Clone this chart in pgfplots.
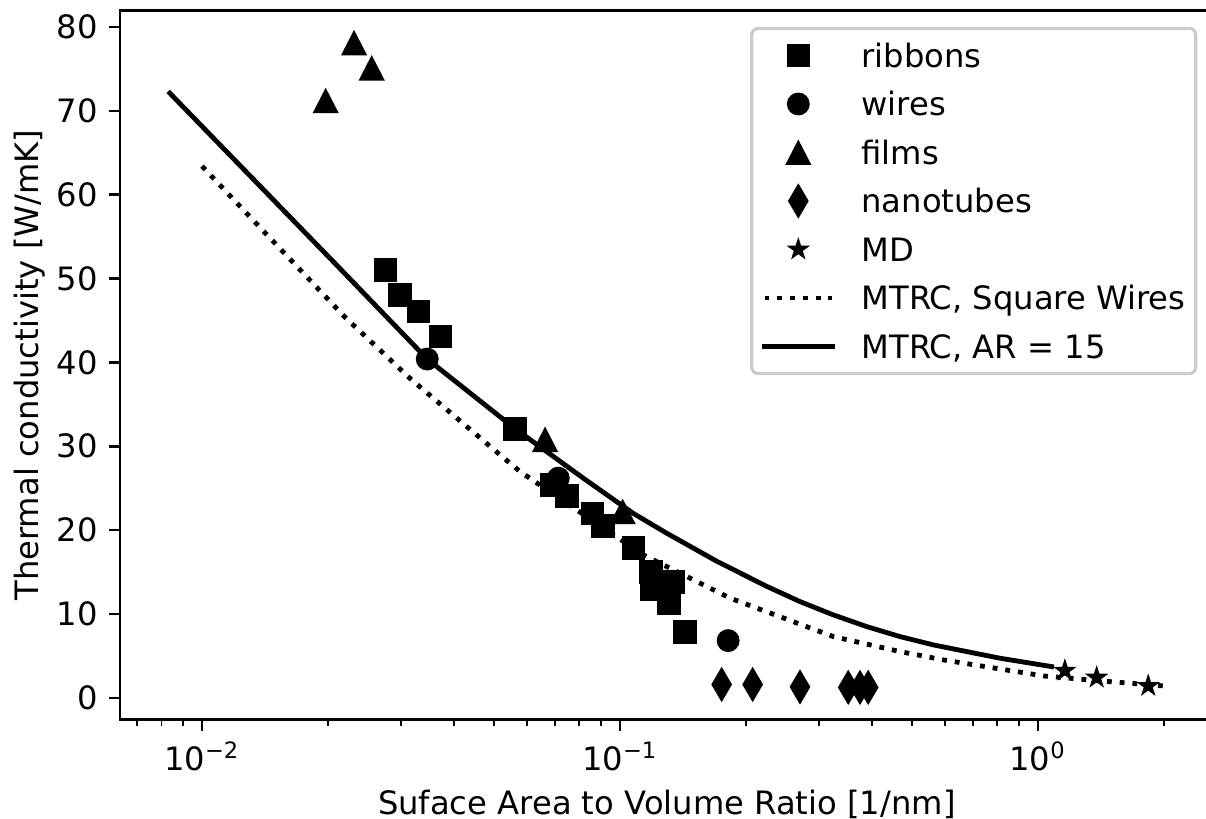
\documentclass[border=0pt]{standalone}
\usepackage{fontspec}
\setmainfont{DejaVu Sans}
\usepackage{pgfplots}
\pgfplotsset{compat=1.18}
\pgfdeclareplotmark{fstar}{%
  \pgfpathmoveto{\pgfqpointpolar{90}{\pgfplotmarksize}}%
  \pgfpathlineto{\pgfqpointpolar{126}{0.382\pgfplotmarksize}}%
  \pgfpathlineto{\pgfqpointpolar{162}{\pgfplotmarksize}}%
  \pgfpathlineto{\pgfqpointpolar{198}{0.382\pgfplotmarksize}}%
  \pgfpathlineto{\pgfqpointpolar{234}{\pgfplotmarksize}}%
  \pgfpathlineto{\pgfqpointpolar{270}{0.382\pgfplotmarksize}}%
  \pgfpathlineto{\pgfqpointpolar{306}{\pgfplotmarksize}}%
  \pgfpathlineto{\pgfqpointpolar{342}{0.382\pgfplotmarksize}}%
  \pgfpathlineto{\pgfqpointpolar{18}{\pgfplotmarksize}}%
  \pgfpathlineto{\pgfqpointpolar{54}{0.382\pgfplotmarksize}}%
  \pgfpathclose
  \pgfusepathqfillstroke
}
\begin{document}
\begin{tikzpicture}
\begin{axis}[
  xmode=log,
  scale only axis,
  width=339.6pt, height=220.2pt,
  xmin=0.006372, xmax=2.63,
  ymin=-2.59, ymax=81.94,
  axis line style={line width=0.8pt},
  tick align=outside,
  xtick pos=left, ytick pos=left,
  major tick length=3.5pt, minor tick length=2pt,
  every tick/.style={black, line width=0.8pt},
  every minor tick/.style={black, line width=0.6pt},
  xtick={0.01,0.1,1},
  minor xtick={0.007,0.008,0.009,0.02,0.03,0.04,0.05,0.06,0.07,0.08,0.09,0.2,0.3,0.4,0.5,0.6,0.7,0.8,0.9,2},
  xticklabels={10\textsuperscript{−2}, 10\textsuperscript{−1}, 10\textsuperscript{0}},
  ytick={0,10,20,30,40,50,60,70,80},
  /pgf/number format/assume math mode=true,
  xlabel={Suface Area to Volume Ratio [1/nm]},
  ylabel={Thermal conductivity [W/mK]},
  xlabel style={at={(axis description cs:0.5,-0.119)}, anchor=center},
  ylabel style={at={(axis description cs:-0.0825,0.5)}, anchor=center},
  legend style={at={(1,1)}, anchor=north east, xshift=-5pt, yshift=-5pt,
    draw=black!20, line width=1pt, rounded corners=2pt, fill=white,
    inner xsep=3.2pt, inner ysep=0.9pt,
    nodes={inner sep=0pt, text height=11.13pt, text depth=3.93pt},
    row sep=0pt},
  legend cell align=left,
  legend image code/.code={\draw[sharp corners,mark repeat=2,mark phase=2,#1] plot coordinates {(0pt,0pt) (10.5pt,0pt) (21pt,0pt)}; \path (29.4pt,0pt);},
]
\addplot[only marks, mark=square*, mark size=3.45pt, line width=0.4pt, black, mark options={fill=black}] coordinates {
(0.02751,51.0) (0.02979,48.05) (0.03292,46.06) (0.03724,43.08) (0.0561,32.07)
(0.0688,25.4) (0.0748,24.1) (0.0860,22.0) (0.0912,20.5) (0.1076,17.85)
(0.1186,15.0) (0.1339,13.8) (0.1193,12.9) (0.1310,11.3) (0.1430,7.87)
};
\addlegendentry{ribbons}
\addplot[only marks, mark=*, mark size=3.35pt, line width=0.4pt, black, mark options={fill=black}] coordinates {
(0.03459,40.4) (0.0712,26.2) (0.1815,6.83)
};
\addlegendentry{wires}
\addplot[only marks, mark=triangle*, mark size=4.85pt, line width=0.4pt, black, mark options={fill=black, xscale=0.89, yshift=-1.25pt}] coordinates {
(0.01977,71.2) (0.02311,78.1) (0.02547,75.1) (0.0662,30.8) (0.1015,22.2)
};
\addlegendentry{films}
\addplot[only marks, mark=diamond*, mark size=5.1pt, line width=0.4pt, black, mark options={fill=black, xscale=0.78}] coordinates {
(0.1751,1.6) (0.2077,1.6) (0.2696,1.3) (0.3517,1.25) (0.3752,1.25) (0.3926,1.25)
};
\addlegendentry{nanotubes}
\addplot[only marks, mark=fstar, mark size=3.2pt, line width=0.4pt, black, mark options={fill=black}] coordinates {
(1.160,3.25) (1.382,2.42) (1.836,1.43)
};
\addlegendentry{MD}
\addplot[black, line width=1.5pt, dash pattern=on 1.5pt off 2.475pt, mark=none] coordinates {
(0.01,63.4) (0.02198,45.4) (0.03145,38.1) (0.0516,29.0) (0.0576,27.0)
(0.1137,17.05) (0.1833,11.9) (0.3238,7.31) (0.4676,5.52) (0.5936,4.53)
(1.030,2.62) (1.407,2.03) (1.994,1.43)
};
\addlegendentry{MTRC, Square Wires}
\addplot[black, line width=1.5pt, line cap=rect, mark=none] coordinates {
(0.00838,72.1) (0.02138,51.2) (0.03459,40.4) (0.0561,32.1) (0.0817,26.2)
(0.1076,22.0) (0.1293,19.64) (0.1703,16.3) (0.2244,13.3) (0.2696,11.48)
(0.3238,9.9) (0.3892,8.5) (0.4676,7.31) (0.5616,6.32) (0.6752,5.52)
(0.811,4.73) (1.078,3.73)
};
\addlegendentry{MTRC, AR = 15}
\end{axis}
\pgfresetboundingbox
\path[use as bounding box] ([shift={(-37.33pt,-30.87pt)}]current axis.south west) rectangle ([shift={(-2.33pt,3.32pt)}]current axis.north east);
\end{tikzpicture}
\end{document}
